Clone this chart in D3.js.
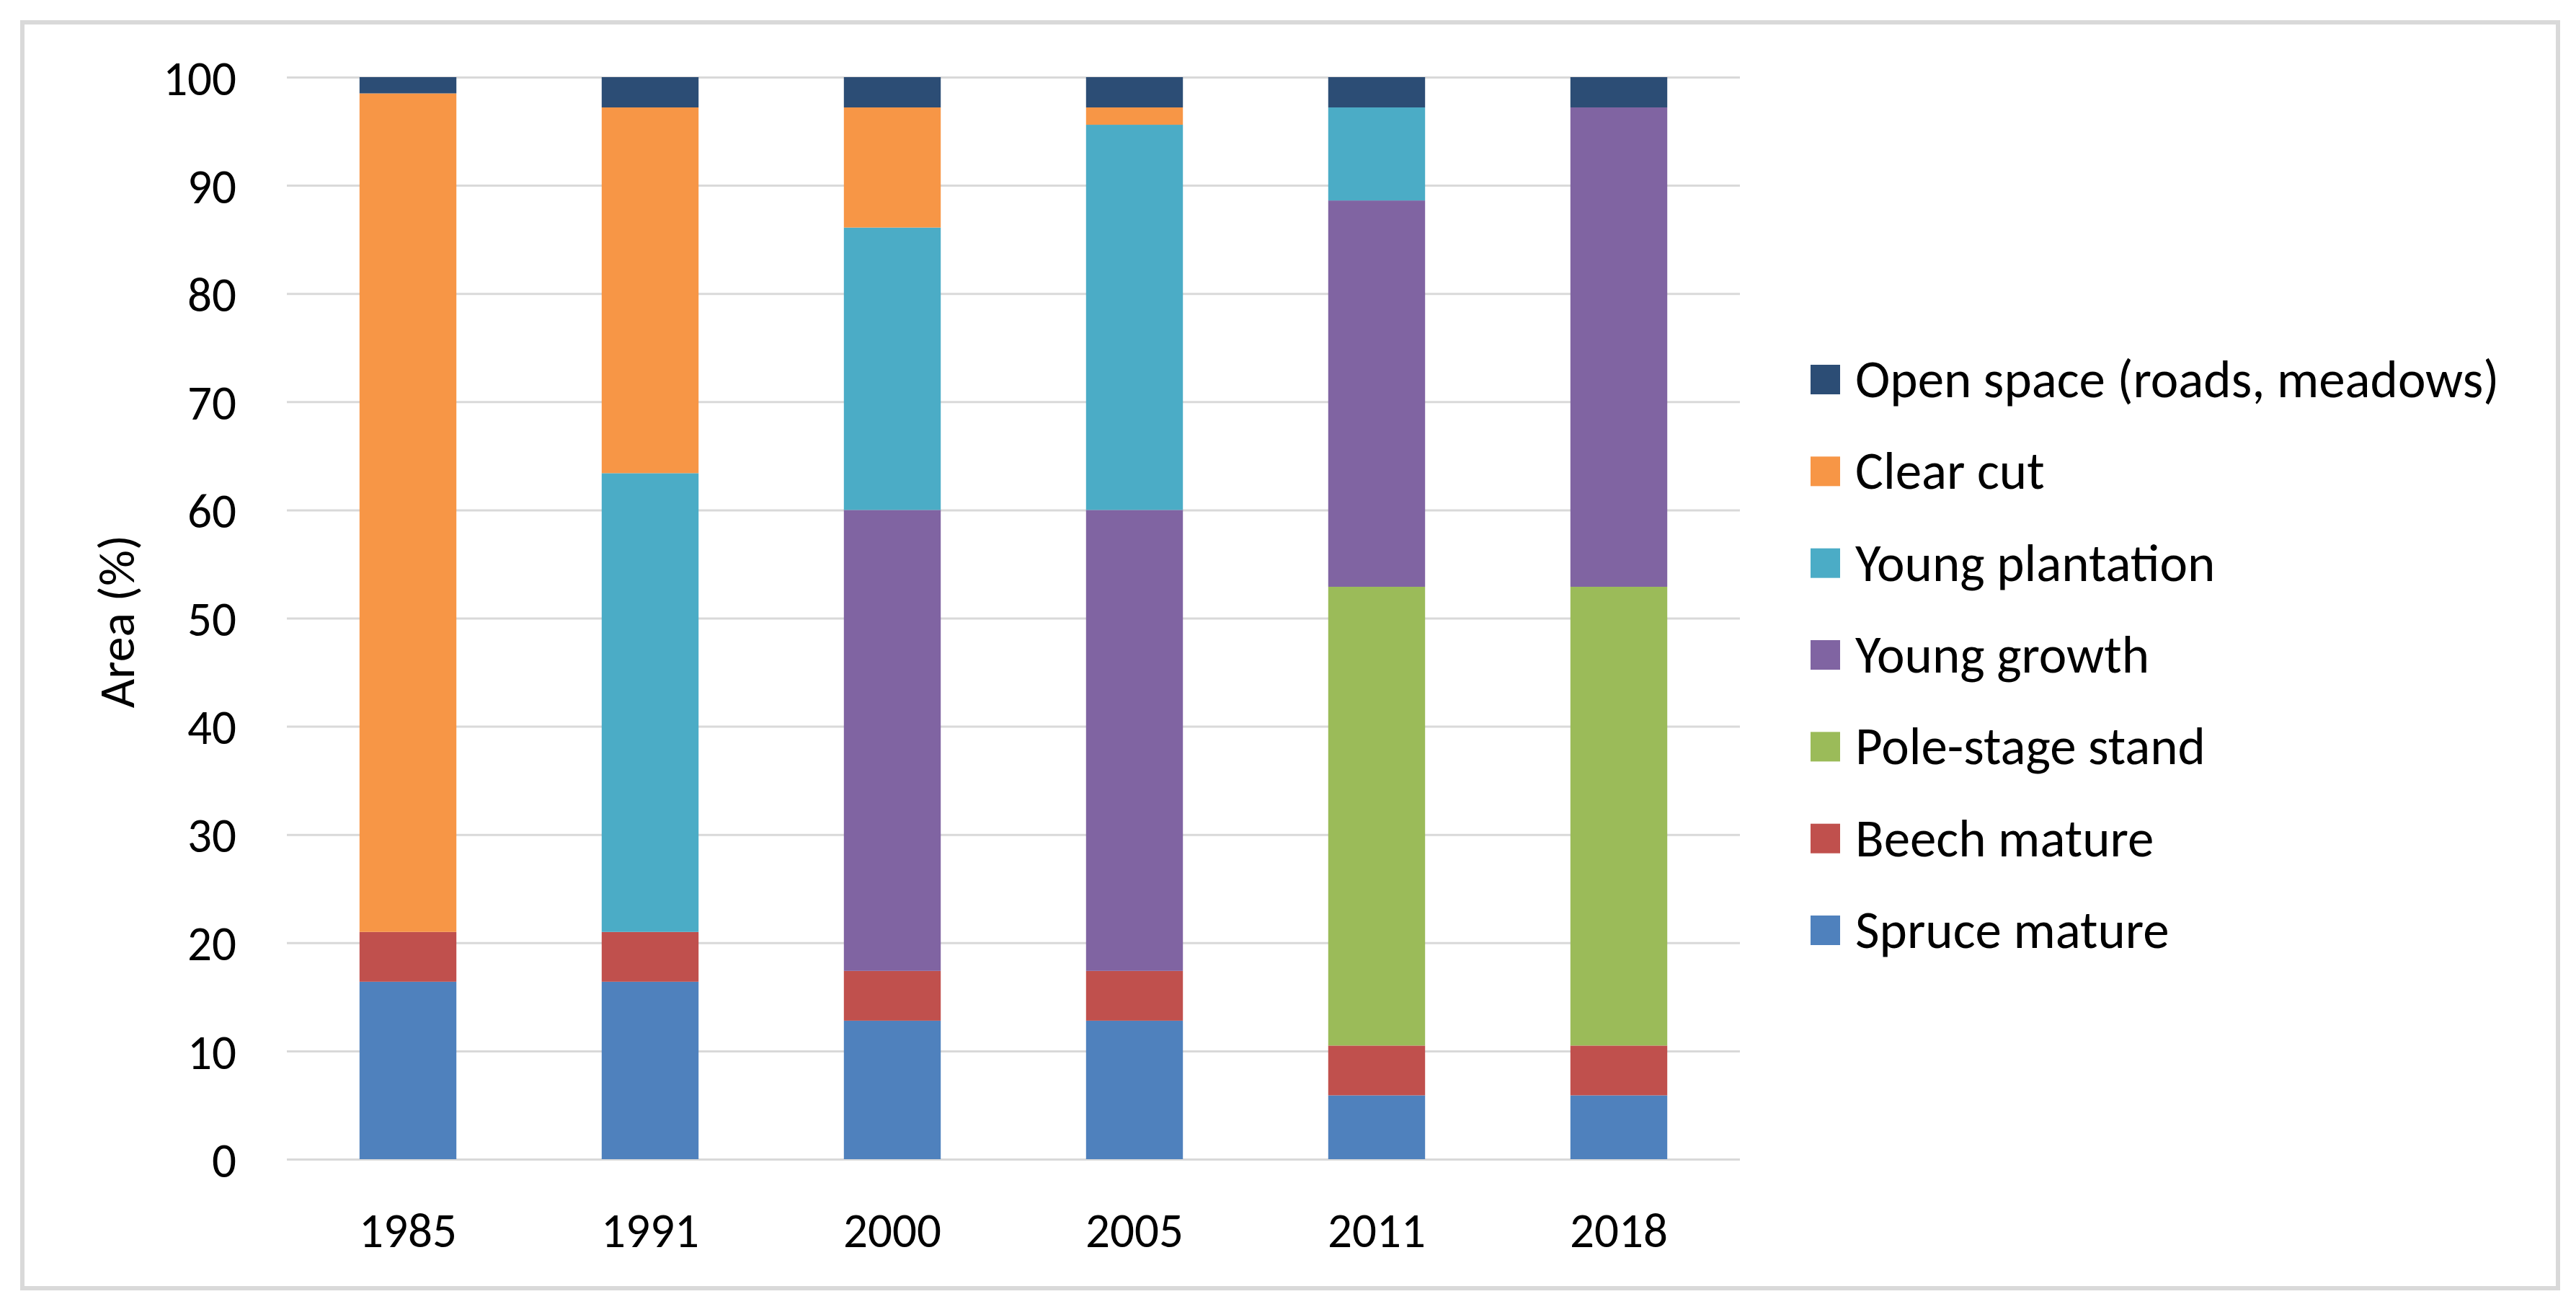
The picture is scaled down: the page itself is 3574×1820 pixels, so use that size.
<!DOCTYPE html>
<html>
<head>
<meta charset="utf-8">
<script src="https://cdn.jsdelivr.net/npm/d3@7"></script>
<style>
  html, body { margin: 0; padding: 0; background: #fff; }
  svg text { font-family: Carlito, Lato, sans-serif; fill: #000; }
</style>
</head>
<body>
<svg id="chart"></svg>
<script>
// Categories (x axis)
const years = ['1985', '1991', '2000', '2005', '2011', '2018'];

// Series, bottom of the stack first
const seriesNames = [
  'Spruce mature',
  'Beech mature',
  'Pole-stage stand',
  'Young growth',
  'Young plantation',
  'Clear cut',
  'Open space (roads, meadows)',
];
const spruceMature = [16.4, 16.4, 12.8, 12.8, 5.9, 5.9];
const beechMature = [4.6, 4.6, 4.6, 4.6, 4.6, 4.6];
const poleStage = [0, 0, 0, 0, 42.4, 42.4];
const youngGrowth = [0, 0, 42.6, 42.6, 35.7, 44.3];
const youngPlantation = [0, 42.4, 26.1, 35.6, 8.6, 0];
const clearCut = [77.5, 33.8, 11.1, 1.6, 0, 0];
const openSpace = [1.5, 2.8, 2.8, 2.8, 2.8, 2.8];

const yTicks = [0, 10, 20, 30, 40, 50, 60, 70, 80, 90, 100];

const seriesValues = [spruceMature, beechMature, poleStage, youngGrowth, youngPlantation, clearCut, openSpace];
const seriesColors = ['#4f81bd', '#c0504d', '#9bbb59', '#8064a2', '#4bacc6', '#f79646', '#2c4d75'];

// visual options
const options = {
  width: 3574,
  height: 1820,
  plotLeft: 398,
  plotRight: 2414,
  plotTop: 107,
  plotBottom: 1608,
  tickFontSize: 67,
  legendFontSize: 73,
  titleFontSize: 70,
  gridColor: '#d9d9d9',
};

const svg = d3.select('#chart')
  .attr('width', options.width)
  .attr('height', options.height);

// outer frame
svg.append('rect')
  .attr('x', 31)
  .attr('y', 31)
  .attr('width', 3518)
  .attr('height', 1756)
  .attr('fill', '#fff')
  .attr('stroke', options.gridColor)
  .attr('stroke-width', 6);

// //////////////////////////////////////////////////////////////////////////
// Scales and stacking

const x = d3.scaleBand()
  .domain(years)
  .range([options.plotLeft, options.plotRight])
  .paddingInner(0.6)
  .paddingOuter(0.3);

const y = d3.scaleLinear()
  .domain([0, 100])
  .range([options.plotBottom, options.plotTop]);

// one row per year, with a column per series
const table = years.map((year, i) => {
  const row = { year };
  seriesNames.forEach((name, s) => { row[name] = seriesValues[s][i]; });
  return row;
});

const stacked = d3.stack().keys(seriesNames)(table);
const color = d3.scaleOrdinal().domain(seriesNames).range(seriesColors);

// //////////////////////////////////////////////////////////////////////////
// Axes

const yAxis = svg.append('g')
  .attr('transform', `translate(${options.plotLeft},0)`)
  .call(d3.axisLeft(y)
    .tickValues(yTicks)
    .tickSize(-(options.plotRight - options.plotLeft))
    .tickPadding(70));

yAxis.select('.domain').remove();
yAxis.selectAll('.tick line')
  .attr('stroke', options.gridColor)
  .attr('stroke-width', 3);
yAxis.selectAll('.tick text')
  .style('font-size', `${options.tickFontSize}px`)
  .attr('dy', '0.36em');

const xAxis = svg.append('g')
  .attr('transform', `translate(0,${options.plotBottom})`)
  .call(d3.axisBottom(x).tickSize(0));

xAxis.select('.domain').remove();
xAxis.selectAll('.tick text')
  .style('font-size', `${options.tickFontSize}px`)
  .attr('y', 122)
  .attr('dy', 0);

// y axis title
svg.append('text')
  .attr('transform', 'translate(186,862) rotate(-90)')
  .attr('text-anchor', 'middle')
  .style('font-size', `${options.titleFontSize}px`)
  .text('Area (%)');

// //////////////////////////////////////////////////////////////////////////
// Bars

svg.append('g')
  .selectAll('g')
  .data(stacked)
  .join('g')
  .attr('fill', (d) => color(d.key))
  .selectAll('rect')
  .data((d) => d.filter((p) => p[1] - p[0] > 0))
  .join('rect')
  .attr('x', (d) => x(d.data.year))
  .attr('width', x.bandwidth())
  .attr('y', (d) => y(d[1]))
  .attr('height', (d) => y(d[0]) - y(d[1]));

// //////////////////////////////////////////////////////////////////////////
// Legend (top of the stack listed first)

const legendItems = seriesNames.slice().reverse();
const legendRow = d3.scalePoint()
  .domain(legendItems)
  .range([527, 1291]);

const legend = svg.append('g')
  .selectAll('g')
  .data(legendItems)
  .join('g')
  .attr('transform', (d) => `translate(2512,${legendRow(d)})`);

legend.append('rect')
  .attr('x', 0)
  .attr('y', -21)
  .attr('width', 41)
  .attr('height', 41)
  .attr('fill', (d) => color(d));

legend.append('text')
  .attr('x', 62)
  .attr('y', 24)
  .style('font-size', `${options.legendFontSize}px`)
  .text((d) => d);
</script>
</body>
</html>
